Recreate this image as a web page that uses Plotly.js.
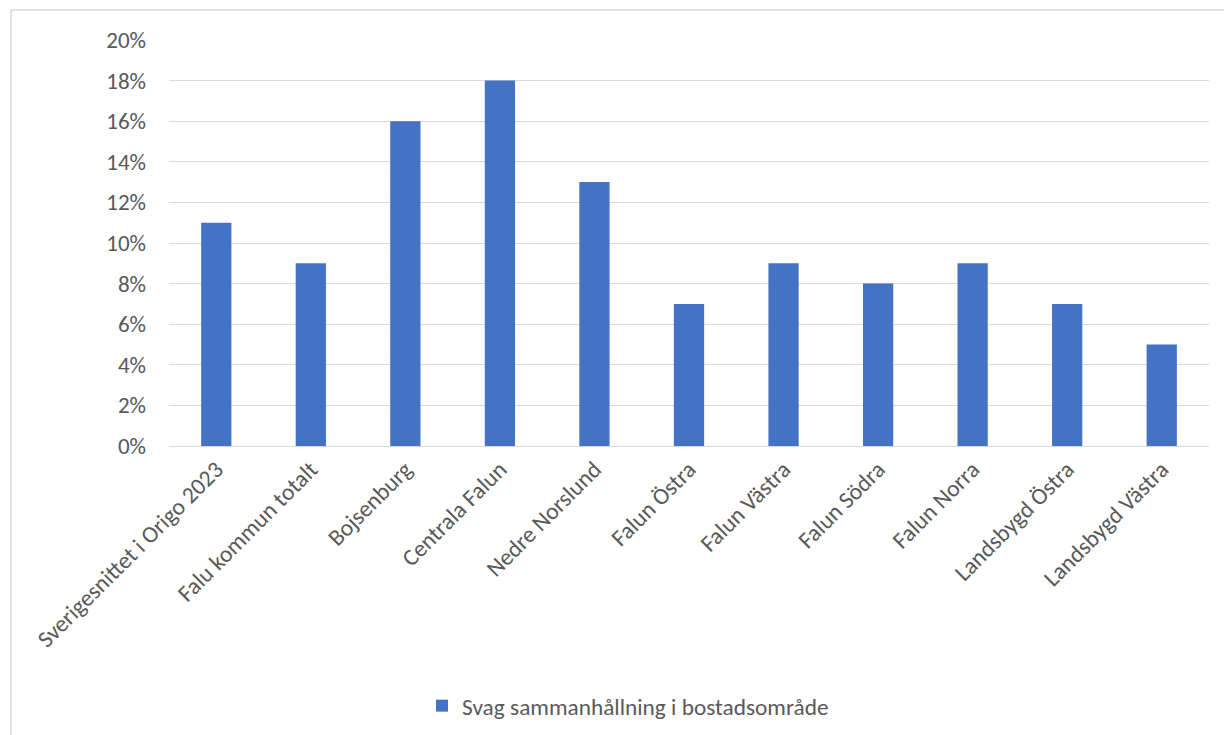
<!DOCTYPE html>
<html><head><meta charset="utf-8">
<script src="https://cdn.plot.ly/plotly-3.0.1.min.js"></script>
<style>html,body{margin:0;padding:0;background:#fff}#c{width:1224px;height:735px}</style>
</head><body><div id="c"></div>
<script>
const categories = ["Sverigesnittet i Origo 2023","Falu kommun totalt","Bojsenburg","Centrala Falun","Nedre Norslund","Falun Östra","Falun Västra","Falun Södra","Falun Norra","Landsbygd Östra","Landsbygd Västra"];
const values = [0.11,0.09,0.16,0.18,0.13,0.07,0.09,0.08,0.09,0.07,0.05];
const seriesName = "Svag sammanhållning i bostadsområde";
const yTicks = [0,0.02,0.04,0.06,0.08,0.10,0.12,0.14,0.16,0.18,0.20];

const font = "Carlito, Calibri, Lato, sans-serif";
const L=169, R=1209, T=40, B=446;
const pw=R-L, ph=B-T;
Plotly.newPlot('c',[{
  type:'bar', x:categories, y:values, name:seriesName,
  marker:{color:'#4472C4'}, width:0.32, showlegend:true
}],{
  width:1224,height:735,
  margin:{l:L,r:1224-R,t:T,b:735-B,autoexpand:false},
  paper_bgcolor:'#fff',plot_bgcolor:'#fff',
  font:{family:font,size:23,color:'#595959'},
  xaxis:{tickangle:-45,showgrid:false,zeroline:false,showline:false,ticks:'',automargin:false,
    ticklabelstandoff:4,
    tickfont:{family:font,size:23.5,color:'#595959'}},
  yaxis:{range:[0,0.2],tickvals:yTicks,tickformat:'.0%',showgrid:true,gridcolor:'#d9d9d9',gridwidth:1,automargin:false,
    zeroline:true,zerolinecolor:'#d9d9d9',zerolinewidth:1,showline:false,ticks:'',ticklabelstandoff:22,
    tickfont:{family:font,size:23,color:'#595959'}},
  legend:{orientation:'h',x:(628-L)/pw,xanchor:'center',y:(B-706)/ph,yanchor:'middle',
    font:{family:font,size:23.3,color:'#595959'}},
  shapes:[{type:'rect',xref:'paper',yref:'paper',x0:(11-L)/pw,x1:(1230-L)/pw,y0:(B-740)/ph,y1:(B-10)/ph,
    line:{color:'#d9d9d9',width:1.5},fillcolor:'rgba(0,0,0,0)',layer:'below'}]
},{displayModeBar:false});
</script></body></html>
